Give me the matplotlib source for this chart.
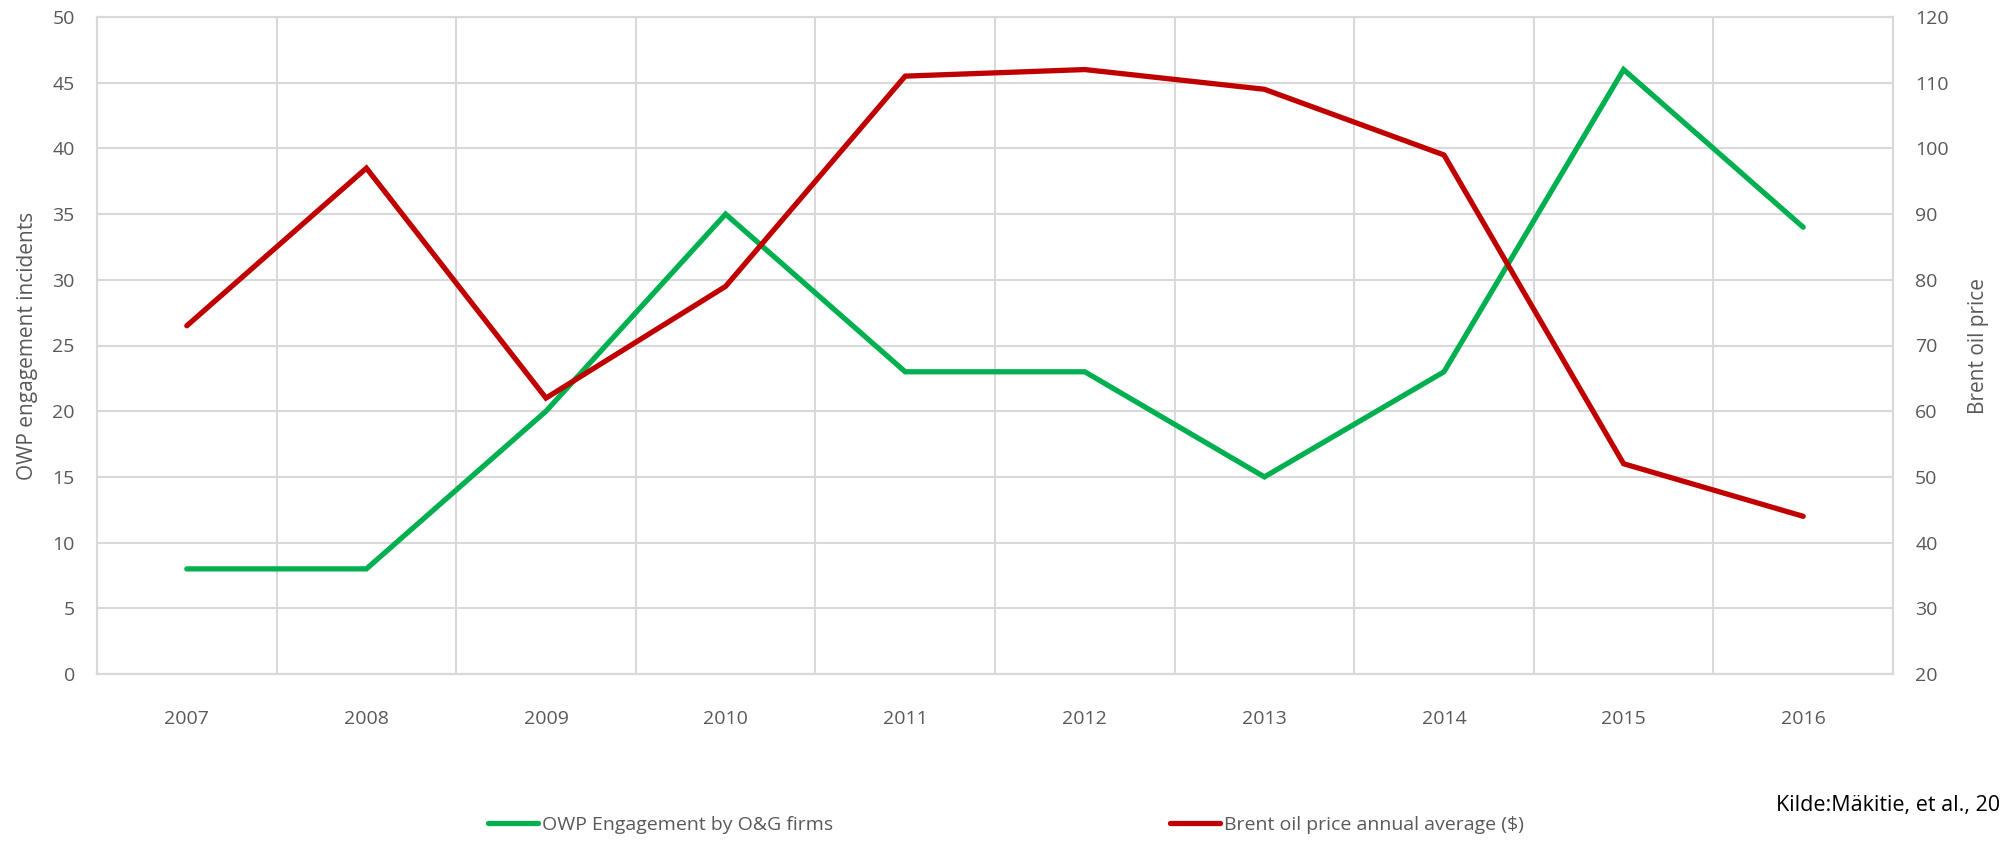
import numpy as np
import matplotlib.pyplot as plt

# data
years = ['2007', '2008', '2009', '2010', '2011', '2012', '2013', '2014', '2015', '2016']
owp_engagement = [8, 8, 20, 35, 23, 23, 15, 23, 46, 34]
brent_price = [73, 97, 62, 79, 111, 112, 109, 99, 52, 44]

plt.rcParams['font.family'] = ['Open Sans', 'DejaVu Sans']

fig = plt.figure(figsize=(20.03, 8.41), dpi=100)
ax = fig.add_axes([97 / 2003, 1 - 674 / 841, (1893 - 97) / 2003, (674 - 17) / 841])
ax2 = ax.twinx()

x = np.arange(len(years))
grid_c = '#D9D9D9'
txt_c = '#595959'

ax.plot(x, owp_engagement, color='#00B050', lw=3.8, solid_capstyle='round',
        solid_joinstyle='miter', label='OWP Engagement by O&G firms', zorder=3)
ax2.plot(x, brent_price, color='#C00000', lw=3.8, solid_capstyle='round',
         solid_joinstyle='miter', label='Brent oil price annual average ($)', zorder=3)

ax.set_xlim(-0.5, len(years) - 0.5)
ax.set_ylim(0, 50)
ax.set_yticks(np.arange(0, 51, 5))
ax2.set_ylim(20, 120)
ax2.set_yticks(np.arange(20, 121, 10))

ax.set_xticks(x)
ax.set_xticklabels(years)
ax.set_xticks(np.arange(0.5, len(years) - 1, 1), minor=True)

ax.grid(True, axis='y', color=grid_c, lw=1.5)
ax.grid(True, axis='x', which='minor', color=grid_c, lw=1.5)
ax.set_axisbelow(True)

for a in (ax, ax2):
    for s in a.spines.values():
        s.set_color(grid_c)
        s.set_linewidth(1.5)
    a.tick_params(length=0, which='both', labelsize=14, labelcolor=txt_c)

ax.tick_params(axis='y', pad=16)
ax.tick_params(axis='x', pad=26)
ax2.tick_params(axis='y', pad=16)

ax.set_ylabel('OWP engagement incidents', fontsize=15, color=txt_c, labelpad=10)
ax2.set_ylabel('Brent oil price', fontsize=15, color=txt_c, labelpad=14)

# legend entries placed like the source
h1, l1 = ax.get_legend_handles_labels()
h2, l2 = ax2.get_legend_handles_labels()
leg1 = fig.legend(h1, l1, loc='center left', bbox_to_anchor=(470 / 2003, 1 - 825 / 841),
                  frameon=False, fontsize=14, handlelength=2.6, handletextpad=0.2, labelcolor=txt_c)
leg2 = fig.legend(h2, l2, loc='center left', bbox_to_anchor=(1152 / 2003, 1 - 825 / 841),
                  frameon=False, fontsize=14, handlelength=2.6, handletextpad=0.2, labelcolor=txt_c)

fig.text(2000 / 2003, 1 - 805 / 841, 'Kilde:Mäkitie, et al., 20', fontsize=15.5,
         color='black', ha='right', va='center')

fig.savefig('out.png', dpi=100)
